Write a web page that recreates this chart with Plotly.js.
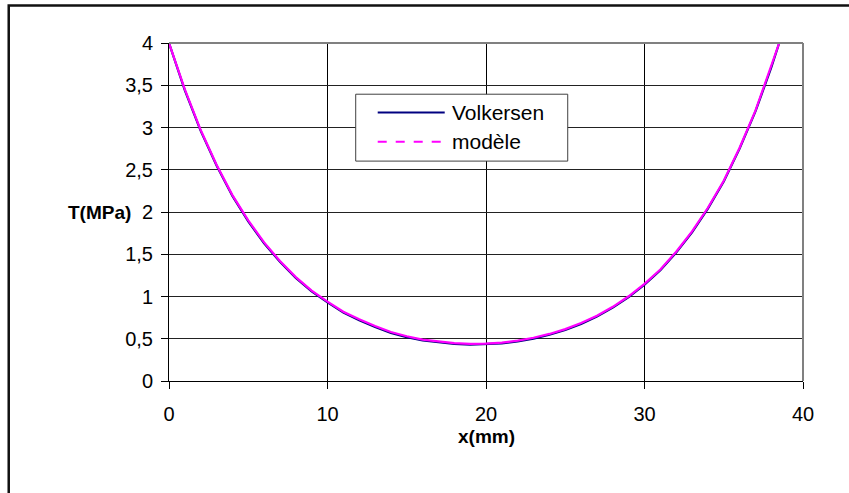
<!DOCTYPE html>
<html>
<head>
<meta charset="utf-8">
<script src="https://cdn.plot.ly/plotly-3.0.1.min.js"></script>
<style>html,body{margin:0;padding:0;background:#fff;}#chart{width:849px;height:493px;}</style>
</head>
<body>
<div id="chart"></div>
<script>
// Data
const xValues = [0,1,2,3,4,5,6,7,8,9,10,11,12,13,14,15,16,17,18,19,20,21,22,23,24,25,26,27,28,29,30,31,32,33,34,35,36,37,38,38.5];
const volkersen = [4.00,3.44,2.96,2.55,2.19,1.89,1.63,1.41,1.22,1.06,0.93,0.81,0.72,0.64,0.57,0.52,0.48,0.455,0.438,0.430,0.433,0.445,0.468,0.502,0.547,0.604,0.676,0.763,0.868,0.993,1.14,1.31,1.52,1.76,2.04,2.36,2.75,3.19,3.71,4.00];
const modele = [4.00,3.45,2.97,2.56,2.20,1.90,1.64,1.42,1.23,1.07,0.94,0.82,0.73,0.65,0.58,0.53,0.49,0.465,0.448,0.440,0.443,0.455,0.478,0.512,0.557,0.614,0.686,0.773,0.878,1.003,1.15,1.32,1.53,1.77,2.05,2.37,2.76,3.20,3.72,4.00];
const yTickVals = [0,0.5,1,1.5,2,2.5,3,3.5,4];
const yTickText = ["0","0,5","1","1,5","2","2,5","3","3,5","4"];
const xTickVals = [0,10,20,30,40];
const xTickText = ["0","10","20","30","40"];
const seriesNames = ["Volkersen","modèle"];
const seriesColors = ["#000080","#FF00FF"];
const xTitle = "x(mm)";
const yTitle = "T(MPa)";

const FONT = "Liberation Sans, Arial, sans-serif";

const traces = [
  {x: xValues, y: volkersen, name: seriesNames[0], type: "scatter", mode: "lines",
   line: {color: seriesColors[0], width: 2.2}},
  {x: xValues, y: modele, name: seriesNames[1], type: "scatter", mode: "lines",
   line: {color: seriesColors[1], width: 2.2}}
];

// hand-drawn legend (Excel style, long line samples)
const legBox = {x0: 0.2945, x1: 0.6289, y0: 0.6506, y1: 0.8485};
const legRows = [0.7944, 0.7076];
const legLine = {x0: 0.3292, x1: 0.4349};
const legTextX = 0.4427;

const shapes = [
  {type: "line", xref: "paper", yref: "paper", x0: 0, x1: 1, y0: 1, y1: 1,
   line: {color: "#808080", width: 2}},
  {type: "line", xref: "paper", yref: "paper", x0: 1, x1: 1, y0: 0, y1: 1,
   line: {color: "#808080", width: 2}},
  {type: "rect", xref: "paper", yref: "paper", x0: -0.2528, x1: 1.3, y0: -0.6, y1: 1.111,
   line: {color: "#111", width: 2.5}, fillcolor: "rgba(0,0,0,0)"},
  {type: "rect", xref: "paper", yref: "paper", x0: legBox.x0, x1: legBox.x1, y0: legBox.y0, y1: legBox.y1,
   line: {color: "#404040", width: 1}, fillcolor: "#ffffff"},
  {type: "line", xref: "paper", yref: "paper", x0: legLine.x0, x1: legLine.x1, y0: legRows[0], y1: legRows[0],
   line: {color: seriesColors[0], width: 2}},
  {type: "line", xref: "paper", yref: "paper", x0: legLine.x0, x1: legLine.x1, y0: legRows[1], y1: legRows[1],
   line: {color: seriesColors[1], width: 2, dash: "dash"}}
];

const annotations = [
  {text: "<b>" + yTitle + "</b>", xref: "paper", yref: "paper",
   x: -0.056, y: 0.5, xanchor: "right", yanchor: "middle", showarrow: false,
   font: {family: FONT, size: 19, color: "#000"}},
  {text: "<b>" + xTitle + "</b>", xref: "paper", yref: "paper",
   x: 0.5, y: -0.1645, xanchor: "center", yanchor: "middle", showarrow: false,
   font: {family: FONT, size: 19, color: "#000"}},
  {text: seriesNames[0], xref: "paper", yref: "paper", x: legTextX, y: legRows[0],
   xanchor: "left", yanchor: "middle", showarrow: false,
   font: {family: FONT, size: 21, color: "#000"}},
  {text: seriesNames[1], xref: "paper", yref: "paper", x: legTextX, y: legRows[1],
   xanchor: "left", yanchor: "middle", showarrow: false,
   font: {family: FONT, size: 21, color: "#000"}}
];

const layout = {
  width: 849, height: 493,
  margin: {l: 169, r: 46, t: 43, b: 112},
  paper_bgcolor: "#ffffff", plot_bgcolor: "#ffffff",
  font: {family: FONT, size: 20, color: "#000"},
  showlegend: false,
  xaxis: {
    range: [0, 40], tickvals: xTickVals, ticktext: xTickText,
    showgrid: true, gridcolor: "#000", gridwidth: 1,
    showline: true, linecolor: "#000", linewidth: 1,
    ticks: "outside", ticklen: 7, tickcolor: "#000",
    ticklabelstandoff: 8,
    zeroline: false, fixedrange: true,
    tickfont: {family: FONT, size: 20}
  },
  yaxis: {
    range: [0, 4], tickvals: yTickVals, ticktext: yTickText,
    showgrid: true, gridcolor: "#222", gridwidth: 1,
    showline: true, linecolor: "#000", linewidth: 1,
    ticks: "outside", ticklen: 7, tickcolor: "#000",
    ticklabelstandoff: 4,
    zeroline: false, fixedrange: true,
    tickfont: {family: FONT, size: 20}
  },
  shapes: shapes,
  annotations: annotations
};

Plotly.newPlot("chart", traces, layout, {displayModeBar: false, staticPlot: true});
</script>
</body>
</html>
